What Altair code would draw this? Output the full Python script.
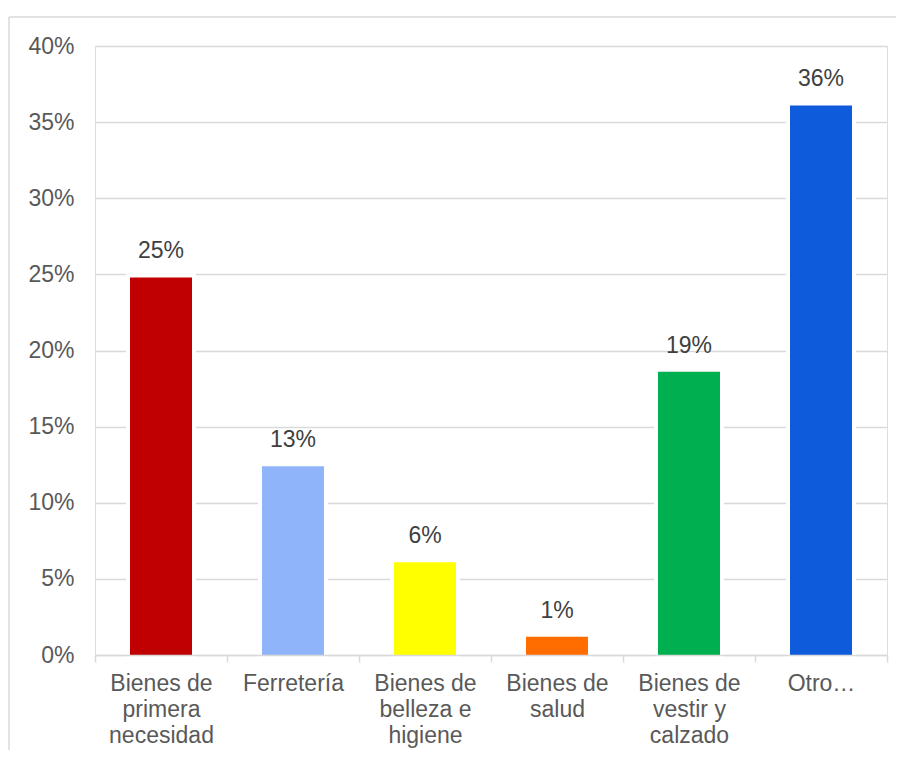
import altair as alt
import pandas as pd

categories = [
    "Bienes de\nprimera\nnecesidad",
    "Ferretería",
    "Bienes de\nbelleza e\nhigiene",
    "Bienes de\nsalud",
    "Bienes de\nvestir y\ncalzado",
    "Otro…",
]
values = [0.248, 0.124, 0.061, 0.012, 0.186, 0.361]
value_labels = ["25%", "13%", "6%", "1%", "19%", "36%"]
colors = ["#C00000", "#8FB4F9", "#FFFF00", "#FF6D01", "#00B050", "#0E5BDB"]
y_ticks = [0.0, 0.05, 0.10, 0.15, 0.20, 0.25, 0.30, 0.35, 0.40]

df = pd.DataFrame({"cat": categories, "val": values, "lab": value_labels})

FONT = "Liberation Sans"
GRID = "#D9D9D9"

x_enc = alt.X(
    "cat:N",
    sort=categories,
    scale=alt.Scale(paddingInner=0, paddingOuter=0),
    axis=alt.Axis(
        title=None,
        labelAngle=0,
        labelExpr="split(datum.label, '\\n')",
        labelFontSize=23,
        labelFont=FONT,
        labelColor="#595959",
        labelLineHeight=26,
        labelPadding=10,
        labelLimit=0,
        tickBand="extent",
        tickSize=7,
        tickColor=GRID,
        tickWidth=1.5,
        domainColor=GRID,
        domainWidth=1.5,
        grid=False,
        zindex=1,
    ),
)
y_enc = alt.Y(
    "val:Q",
    scale=alt.Scale(domain=[0, 0.4], nice=False),
    axis=alt.Axis(
        title=None,
        values=y_ticks,
        format=".0%",
        labelFontSize=23,
        labelFont=FONT,
        labelColor="#595959",
        labelPadding=21,
        domain=False,
        ticks=False,
        gridColor=GRID,
        gridWidth=1.3,
    ),
)

base = alt.Chart(df)

halo = base.mark_bar(size=62, color="white", stroke="white", strokeWidth=8).encode(
    x=x_enc, y=y_enc
)
bars = base.mark_bar(size=62).encode(
    x=x_enc,
    y=y_enc,
    color=alt.Color("cat:N", scale=alt.Scale(domain=categories, range=colors), legend=None),
)
text = base.mark_text(
    dy=-19, baseline="alphabetic", fontSize=23, font=FONT, color="#404040"
).encode(x=x_enc, y=y_enc, text="lab:N")

frame_data = alt.Data(values=[{"a": 1}])
top_line = alt.Chart(frame_data).mark_rule(color=GRID, strokeWidth=1.5).encode(
    x=alt.value(-86), x2=alt.value(830), y=alt.value(-29)
)
left_line = alt.Chart(frame_data).mark_rule(color=GRID, strokeWidth=1.5).encode(
    x=alt.value(-86), y=alt.value(-29), y2=alt.value(720)
)

chart = (
    alt.layer(halo, bars, text, top_line, left_line)
    .properties(
        width=792,
        height=609,
        autosize=alt.AutoSizeParams(type="none"),
        padding={"left": 87, "top": 38, "right": 9, "bottom": 95},
    )
    .configure_view(stroke=None)
    .configure(font=FONT)
)

chart.save("out.html", embed_options={"renderer": "svg", "actions": False})
